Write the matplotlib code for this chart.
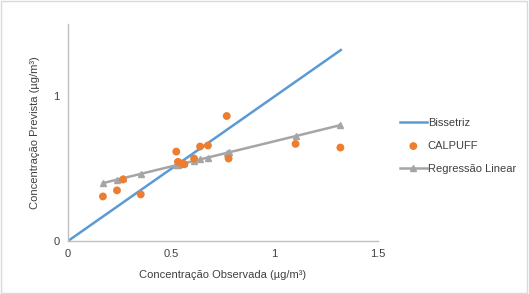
import matplotlib.pyplot as plt
import matplotlib.patches as patches

# valores
obs = [0.169, 0.237, 0.266, 0.352, 0.524, 0.532, 0.553, 0.563, 0.610,
       0.639, 0.677, 0.768, 0.777, 1.101, 1.318]
calpuff = [0.308, 0.350, 0.425, 0.322, 0.618, 0.547, 0.536, 0.531, 0.570,
           0.653, 0.660, 0.864, 0.570, 0.671, 0.646]
regressao = [0.400, 0.424, 0.434, 0.464, 0.524, 0.527, 0.534, 0.537, 0.554,
             0.564, 0.577, 0.609, 0.612, 0.725, 0.801]
bissetriz_x = [0, 1.32]
bissetriz_y = [0, 1.32]
xticks = [0, 0.5, 1, 1.5]
yticks = [0, 1]

plt.rcParams['font.family'] = ['Liberation Sans', 'DejaVu Sans']

fig = plt.figure(figsize=(5.29, 2.94), dpi=100)
ax = fig.add_axes([68 / 529, 1 - 241 / 294, 310 / 529, 217 / 294])

ax.plot(bissetriz_x, bissetriz_y, color='#5B9BD5', lw=1.8, label='Bissetriz')
ax.scatter(obs, calpuff, color='#ED7D31', s=32, zorder=3, label='CALPUFF', edgecolors='none')
ax.plot(obs, regressao, color='#A5A5A5', lw=1.8, marker='^', ms=5, label='Regressão Linear')

ax.set_xlim(0, 1.5)
ax.set_ylim(0, 1.5)
ax.set_xticks(xticks)
ax.set_xticklabels(['0', '0.5', '1', '1.5'])
ax.set_yticks(yticks)
ax.tick_params(length=0, labelsize=8, colors='#404040', pad=6)
for s in ['top', 'right']:
    ax.spines[s].set_visible(False)
for s in ['left', 'bottom']:
    ax.spines[s].set_color('#BFBFBF')
    ax.spines[s].set_linewidth(1)

ax.set_xlabel('Concentração Observada (µg/m³)', fontsize=8, color='#404040', labelpad=8)
ax.set_ylabel('Concentração Prevista (µg/m³)', fontsize=8, color='#404040', labelpad=10)

ax.legend(loc='center left', bbox_to_anchor=(390 / 529, 1 - 146 / 294),
          bbox_transform=fig.transFigure, frameon=False, fontsize=8,
          handlelength=2.4, handletextpad=0.1, labelspacing=1.15,
          labelcolor='#404040')

fig.patches.append(patches.Rectangle((0.002, 0.003), 0.995, 0.993, transform=fig.transFigure,
                                     fill=False, edgecolor='#D9D9D9', lw=1))

fig.savefig('out.png', dpi=100)
